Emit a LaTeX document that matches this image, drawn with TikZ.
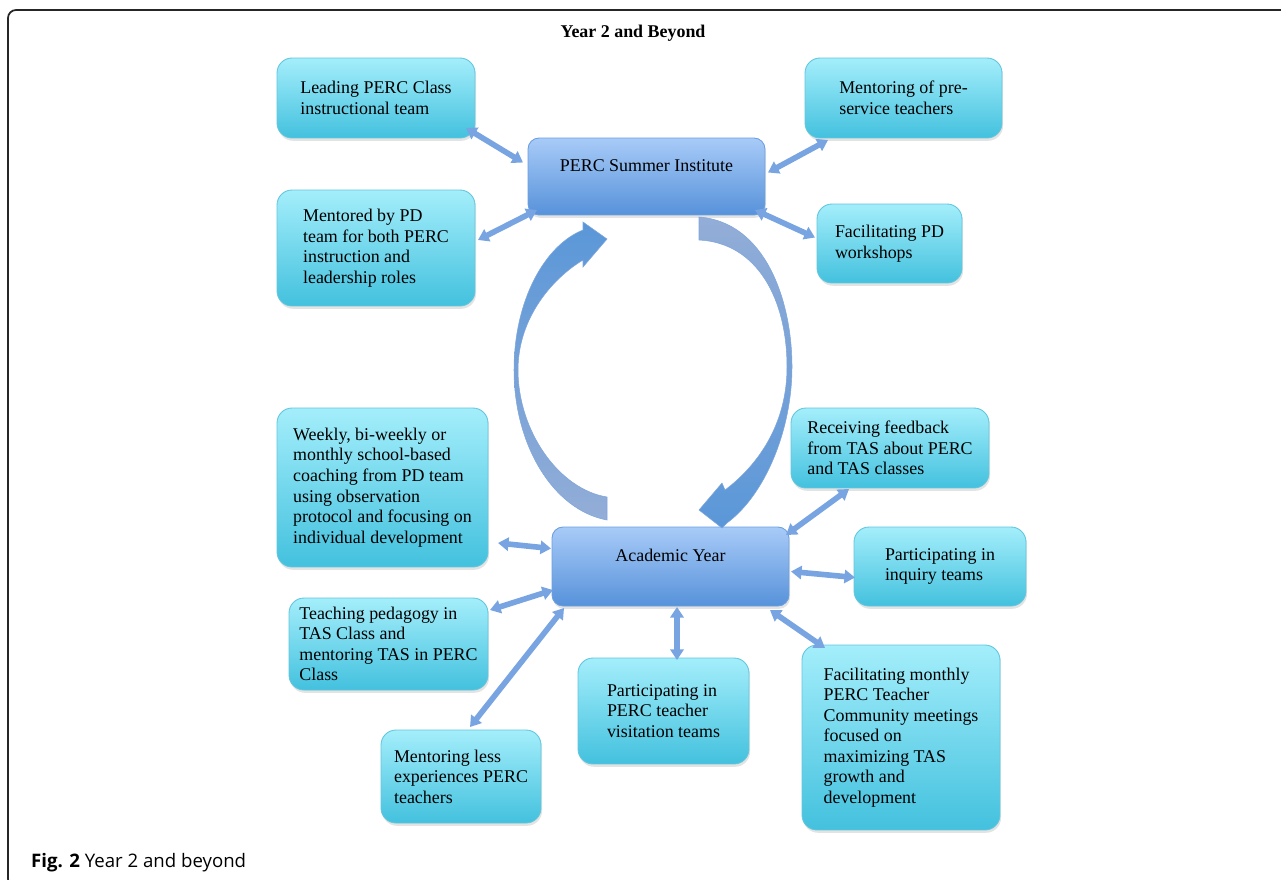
\documentclass[tikz,border=0pt]{standalone}
\usepackage{fontspec}
\setmainfont{Liberation Serif}
\setsansfont{Open Sans}
\usetikzlibrary{arrows.meta,calc,shadows}

\definecolor{taskTop}{HTML}{A4EEFB}
\definecolor{taskBot}{HTML}{43C1DE}
\definecolor{taskLine}{HTML}{62C6DD}
\definecolor{hubTop}{HTML}{A8CBF8}
\definecolor{hubBot}{HTML}{5792DA}
\definecolor{hubLine}{HTML}{6C9FDF}
\definecolor{linkBlue}{HTML}{78A4E1}
\definecolor{cycleDark}{HTML}{5A97D8}
\definecolor{cycleLight}{HTML}{93ADD7}
\definecolor{cycleEdge}{HTML}{7FA6DC}

\tikzset{
  boxtext/.style={font=\fontsize{10.2}{11.7}\selectfont},
  task/.style={boxtext, draw=taskLine, line width=0.5pt, rounded corners=0.3cm,
    top color=taskTop, bottom color=taskBot, align=left, inner sep=0pt, outer sep=0pt,
    drop shadow={shadow xshift=0.6pt, shadow yshift=-1.6pt, opacity=0.22}},
  hub/.style={boxtext, draw=hubLine, line width=0.5pt, rounded corners=0.22cm,
    top color=hubTop, bottom color=hubBot, inner sep=0pt, outer sep=0pt,
    minimum width=4.74cm, text height=0.24cm, text depth=0.44cm,
    drop shadow={shadow xshift=0.6pt, shadow yshift=-1.6pt, opacity=0.22}},
  link/.style={draw=linkBlue, line width=3.2pt,
    arrows={Triangle[width=7.5pt,length=6pt]-Triangle[width=7.5pt,length=6pt]}},
  cycle/.style={draw=cycleEdge, line width=0.3pt}
}

\begin{document}
\begin{tikzpicture}[x=0.02cm,y=-0.02cm]
\useasboundingbox (0,0) rectangle (1281,879);

% frame and titles
\begin{scope}
\clip (0,0) rectangle (1281,879);
\draw[line width=1pt, black!85, rounded corners=0.16cm] (1300,10) -- (8,10) -- (8,887) -- (60,887);
\end{scope}
\node[font=\fontsize{10.2}{12}\selectfont\bfseries] (title) at (633,33) {Year 2 and Beyond};
\node[anchor=base west, font=\sffamily\fontsize{10.6}{12}\selectfont] (caption) at (25,867) {\textbf{Fig. 2} Year 2 and beyond};

% hubs
\node[hub, minimum height=1.54cm] (si) at (646.5,176.5) {PERC Summer Institute};
\node[hub, minimum height=1.58cm] (ay) at (670.5,566.5) {Academic Year};

% summer institute roles
\node[task, minimum width=3.96cm, minimum height=1.6cm] (lead) at (376,98) {Leading PERC Class\\instructional team};
\node[task, minimum width=3.94cm, minimum height=1.6cm] (preserv) at (903.5,98) {Mentoring of pre-\\service teachers};
\node[task, minimum width=3.96cm, minimum height=2.32cm] (mentored) at (376,248) {Mentored by PD\\team for both PERC\\instruction and\\leadership roles};
\node[task, minimum width=2.9cm, minimum height=1.58cm] (facil) at (889.5,243.5) {Facilitating PD\\workshops};

% academic year roles
\node[task, minimum width=4.22cm, minimum height=3.18cm] (weekly) at (382.5,487.5) {Weekly, bi-weekly or\\monthly school-based\\coaching from PD team\\using observation\\protocol and focusing on\\individual development};
\node[task, minimum width=3.96cm, minimum height=1.6cm] (feedback) at (890,448) {Receiving feedback\\from TAS about PERC\\and TAS classes};
\node[task, minimum width=3.44cm, minimum height=1.58cm] (inquiry) at (940,566.5) {Participating in\\inquiry teams};
\node[task, minimum width=3.98cm, minimum height=1.84cm] (pedagogy) at (388.5,644) {Teaching pedagogy in\\TAS Class and\\mentoring TAS in PERC\\Class};
\node[task, minimum width=3.42cm, minimum height=2.12cm] (visit) at (663.5,711) {Participating in\\PERC teacher\\visitation teams};
\node[task, minimum width=3.2cm, minimum height=1.86cm] (lesser) at (461,776.5) {Mentoring less\\experiences PERC\\teachers};
\node[task, minimum width=3.96cm, minimum height=3.7cm] (monthly) at (901,737.5) {Facilitating monthly\\PERC Teacher\\Community meetings\\focused on\\maximizing TAS\\growth and\\development};

% links
\draw[link] ($(lead.south east)+(-9,-10)$) -- ($(si.west)+(-5,-14)$);
\draw[link] ($(mentored.east)+(3,-8)$) -- ($(si.south west)+(9,-5)$);
\draw[link] ($(preserv.south west)+(23,2)$) -- ($(si.east)+(3,-4)$);
\draw[link] ($(facil.west)+(-2,-6)$) -- ($(si.south east)+(-10,-5)$);
\draw[link] ($(weekly.south east)+(10,-24)$) -- ($(ay.west)+(-1,-18)$);
\draw[link] ($(feedback.south)+(-41,1)$) -- ($(ay.north east)+(-3,8)$);
\draw[link] ($(inquiry.west)+(1,11)$) -- ($(ay.east)+(2,5)$);
\draw[link] ($(pedagogy.north east)+(2,12)$) -- ($(ay.south west)+(1,-16)$);
\draw[link] ($(lesser.north)+(9,-3)$) -- ($(ay.south west)+(12,2)$);
\draw[link] ($(visit.north)+(13.5,2)$) -- ($(ay.south)+(6.5,1)$);
\draw[link] ($(monthly.north west)+(23,3)$) -- ($(ay.south east)+(-19,4)$);

% cycle arrows
\path[cycle, top color=cycleDark, bottom color=cycleLight]
  (607,520) .. controls (553,510) and (514,445) .. (514,370)
  .. controls (514,300) and (545,245) .. (583,230) -- (583,222) -- (607,239)
  -- (583,267) -- (583,260) .. controls (550,280) and (518,320) .. (518,370)
  .. controls (518,430) and (558,489) .. (607,497) -- cycle;
\path[cycle, top color=cycleLight, bottom color=cycleDark]
  (699,217) .. controls (765,222) and (792,300) .. (792,367)
  .. controls (792,430) and (765,495) .. (727,523) -- (722,528) -- (699,510)
  -- (722,483) -- (725,490) .. controls (762,462) and (787,420) .. (787,367)
  .. controls (787,300) and (758,243) .. (699,240) -- cycle;
\end{tikzpicture}
\end{document}
